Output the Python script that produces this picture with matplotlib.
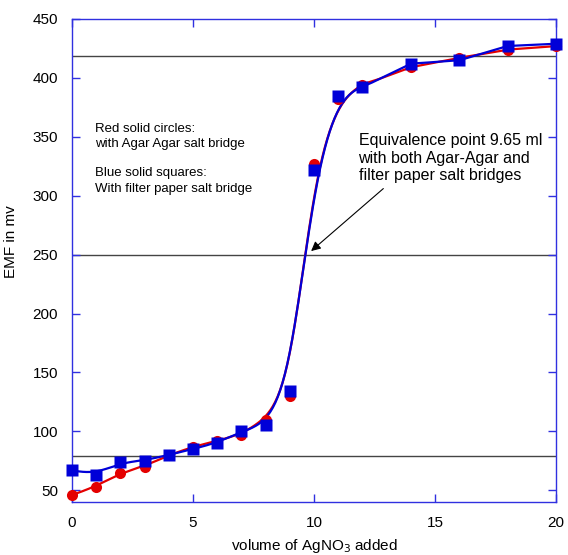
import numpy as np
import matplotlib
matplotlib.use("Agg")
import matplotlib.pyplot as plt

plt.rcParams["font.family"] = ["Liberation Sans", "DejaVu Sans"]

# volume of AgNO3 added (ml)
volume = [0, 1, 2, 3, 4, 5, 6, 7, 8, 9, 10, 11, 12, 14, 16, 18, 20]
# EMF (mv) with agar agar salt bridge
emf_agar = [46, 53, 65, 70, 80, 87, 92, 97, 110, 130, 327, 382, 394, 409, 417, 424, 427]
# EMF (mv) with filter paper salt bridge
emf_paper = [67, 63, 74, 75, 80, 85, 90, 100, 105, 134, 322, 385, 392, 412, 415, 427, 429]

ref_levels = [419, 250, 79]

RED = "#e40000"
BLUE = "#0000d8"
AXIS_BLUE = "#3030e0"


def smooth_curve(x, y, bw=0.68, npts=401):
    """Local linear (gaussian weighted) smoothing of the measured points."""
    x = np.asarray(x, float)
    y = np.asarray(y, float)
    grid = np.linspace(x.min(), x.max(), npts)
    out = np.empty_like(grid)
    for i, g in enumerate(grid):
        w = np.exp(-0.5 * ((x - g) / bw) ** 2)
        mx = np.sum(w * x) / w.sum()
        my = np.sum(w * y) / w.sum()
        sxx = np.sum(w * (x - mx) ** 2)
        sxy = np.sum(w * (x - mx) * (y - my))
        out[i] = my + sxy / sxx * (g - mx)
    return grid, out


fig = plt.figure(figsize=(5.68, 5.55), dpi=100)
ax = fig.add_axes([72 / 568, 1 - 502 / 555, 484 / 568, 483 / 555])

for lvl in ref_levels:
    ax.axhline(lvl, color="#444444", lw=1.0, zorder=1)

gx, gy = smooth_curve(volume, emf_agar)
ax.plot(gx, gy, color=RED, lw=1.6, zorder=2)
gx, gy = smooth_curve(volume, emf_paper)
ax.plot(gx, gy, color=BLUE, lw=1.6, zorder=3)

ax.plot(volume, emf_agar, "o", color=RED, ms=8, mec="none", zorder=4, clip_on=False)
ax.plot(volume, emf_paper, "s", color=BLUE, ms=8.5, mec="none", zorder=5, clip_on=False)

ax.set_xlim(0, 20)
ax.set_ylim(40, 450)
ax.set_xticks([0, 5, 10, 15, 20])
ax.set_yticks(range(50, 451, 50))
for sp in ax.spines.values():
    sp.set_color(AXIS_BLUE)
    sp.set_linewidth(1.0)
ax.tick_params(direction="in", length=6, width=1, color=AXIS_BLUE,
               top=True, right=True, labelsize=11, pad=10)

ax.set_xlabel("volume of AgNO$_3$ added", fontsize=11)
ax.xaxis.set_label_coords(0.5, -0.072)
ax.set_ylabel("EMF in mv", fontsize=11)
ax.yaxis.set_label_coords(-0.112, 0.54)

ax.text(0.95, 357, "Red solid circles:", fontsize=9.5, va="center")
ax.text(0.95, 343.5, "with Agar Agar salt bridge", fontsize=9.5, va="center")
ax.text(0.95, 319, "Blue solid squares:", fontsize=9.5, va="center")
ax.text(0.95, 305.5, "With filter paper salt bridge", fontsize=9.5, va="center")

ax.annotate("Equivalence point 9.65 ml\nwith both Agar-Agar and\nfilter paper salt bridges",
            xy=(9.88, 253), xytext=(11.84, 353), fontsize=11.5, va="top",
            linespacing=1.2,
            arrowprops=dict(arrowstyle="-|>", color="black", lw=0.8,
                            shrinkA=3, shrinkB=0, mutation_scale=14,
                            relpos=(0.17, 0)))

fig.savefig("out.png", dpi=100)
